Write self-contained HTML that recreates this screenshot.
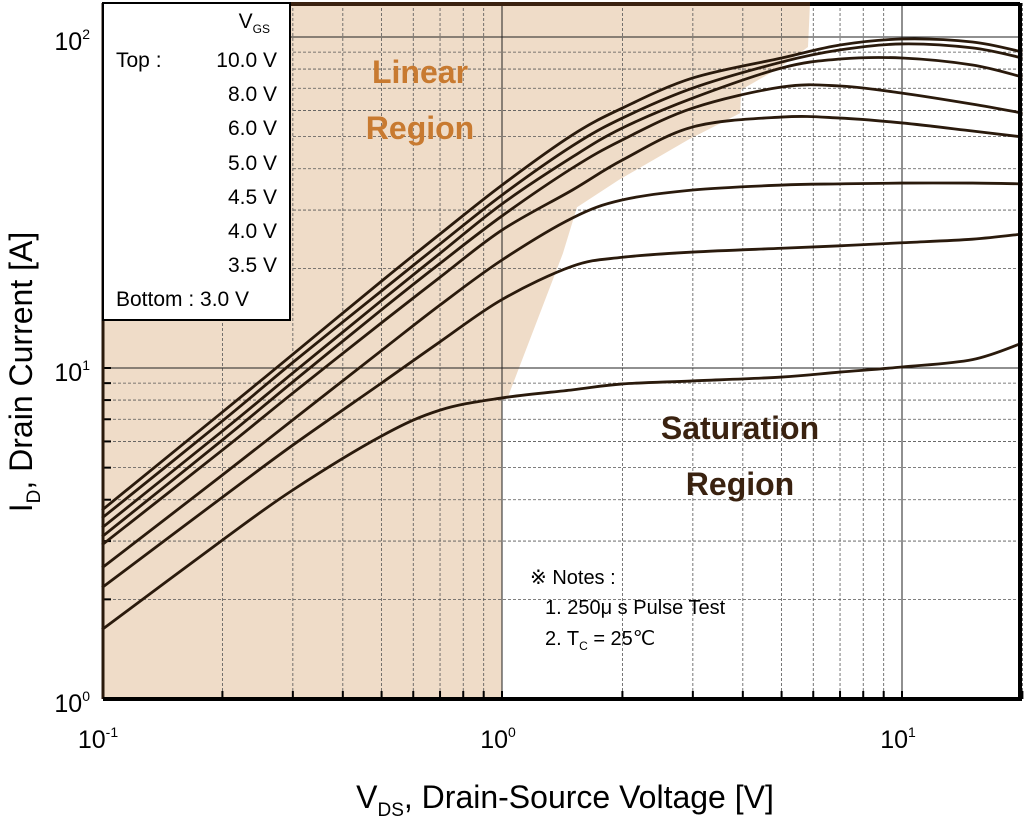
<!DOCTYPE html>
<html><head><meta charset="utf-8"><style>
html,body{margin:0;padding:0;background:#fff;}
svg{display:block;font-family:"Liberation Sans",sans-serif;}
</style></head><body>
<svg id="chart" width="1024" height="817" viewBox="0 0 1024 817" xmlns="http://www.w3.org/2000/svg">
<g id="shade"></g>
<g id="grid"></g>
<g id="curves"></g>
<g id="frame"></g>
<g id="labels"></g>
<g>
<rect x="103" y="3" width="187" height="317" fill="#fff" stroke="#000" stroke-width="2"/>
<text x="270" y="28" font-size="21" text-anchor="end" fill="#000">V<tspan font-size="12" dy="5">GS</tspan></text>
<text x="116" y="67" font-size="21" fill="#000">Top :</text>
<g font-size="21" text-anchor="end" fill="#000">
<text x="277" y="67">10.0 V</text>
<text x="277" y="101">8.0 V</text>
<text x="277" y="135">6.0 V</text>
<text x="277" y="170">5.0 V</text>
<text x="277" y="204">4.5 V</text>
<text x="277" y="238">4.0 V</text>
<text x="277" y="272">3.5 V</text>
</g>
<text x="116" y="306" font-size="21" fill="#000">Bottom :  3.0 V</text>
</g>
<g font-size="32" font-weight="bold" fill="#c87a30" text-anchor="middle">
<text x="420" y="83">Linear</text><text x="420" y="139">Region</text></g>
<g font-size="32" font-weight="bold" fill="#3a2210" text-anchor="middle">
<text x="740" y="439">Saturation</text><text x="740" y="495">Region</text></g>
<g font-size="20" fill="#000">
<text x="530" y="584">※ Notes :</text>
<text x="545" y="614">1. 250μ s Pulse Test</text>
<text x="545" y="645">2. T<tspan font-size="12" dy="5">C</tspan><tspan dy="-5"> = 25℃</tspan></text>
</g>
<text x="565" y="808" font-size="32" text-anchor="middle" fill="#000">V<tspan font-size="19" dy="8">DS</tspan><tspan dy="-8">, Drain-Source Voltage [V]</tspan></text>
<text transform="translate(32,372) rotate(-90)" font-size="32" text-anchor="middle" fill="#000">I<tspan font-size="19" dy="8">D</tspan><tspan dy="-8">, Drain Current [A]</tspan></text>
</svg>
<script>
const vGrid=[0.1,0.2,0.3,0.5,0.7,1,1.5,2,3,5,7,10,15,20];
const i10=[3.72,7.36,11.0,18.3,25.4,35.7,50.6,61.0,75.2,86.4,94.6,98.6,96.6,90.1];
const i8=[3.52,6.92,10.4,17.1,23.7,33.3,46.9,56.9,70.1,84.0,91.4,95.3,92.7,86.4];
const i6=[3.29,6.45,9.66,16.0,22.2,31.3,43.4,53.1,65.4,80.6,85.8,86.4,82.3,75.7];
const i5=[3.09,6.06,9.08,15.0,20.7,28.8,40.2,48.9,61.0,70.6,71.1,67.7,62.7,58.9];
const i45=[2.92,5.65,8.40,13.7,18.8,26.1,34.5,42.5,53.5,57.3,56.9,55.0,52.0,49.9];
const i4=[2.49,4.75,6.97,11.3,15.5,21.2,28.4,32.2,34.5,35.7,36.0,36.2,36.2,36.0];
const i35=[2.17,4.07,5.85,9.01,12.0,16.1,20.3,21.6,22.4,23.0,23.4,23.9,24.5,25.4];
const i3=[1.62,3.02,4.28,6.23,7.46,8.12,8.59,8.95,9.14,9.39,9.72,10.07,10.6,11.9];
const seriesNames=["10v","8v","6v","5v","4-5v","4v","3-5v","3v"];
const shadeV=[0.1,5.89,5.82,4.93,3.96,3.94,2.92,1.96,1.54,1.42,1.035,1,1,0.1];
const shadeI=[126.7,126.7,93.3,80.6,69.2,58.9,48.9,37.0,30.6,22.2,8.19,8.0,1,1];
const NS="http://www.w3.org/2000/svg";
const X0=102,XD=400,Y0=37,YD=331;
const xs=v=>X0+XD*(Math.log10(v)+1);
const ys=i=>Y0+YD*(2-Math.log10(i));
const L=103,R=1020,T=3,B=699;
function mk(tag,parent,attrs){const e=document.createElementNS(NS,tag);for(const k in attrs)e.setAttribute(k,attrs[k]);parent.appendChild(e);return e;}
const shadeG=document.getElementById('shade');
const sp=mk('polygon',shadeG,{points:shadeV.map((v,k)=>Math.max(L,xs(v)).toFixed(1)+','+Math.max(T,ys(shadeI[k])).toFixed(1)).join(' '),fill:'#efdcc8'});


const grid=document.getElementById('grid');
for(let d=-1;d<=1;d++)for(let m=1;m<=9;m++){const v=m*Math.pow(10,d);if(v>20)continue;const x=xs(v);if(x<L+1)continue;
 const ln=mk('line',grid,{x1:x,x2:x,y1:T,y2:B,stroke:m===1?'#222':'#555','stroke-width':m===1?1:0.8,'stroke-dasharray':m===1?'':'3,2'});
 
 
 mk('line',grid,{x1:x,x2:x,y1:B-8,y2:B,stroke:'#000','stroke-width':2});}
for(let d=0;d<=2;d++)for(let m=1;m<=9;m++){const v=m*Math.pow(10,d);const y=ys(v);if(y<T+1||y>B-1)continue;
 const ln=mk('line',grid,{x1:L,x2:R,y1:y,y2:y,stroke:m===1?'#222':'#555','stroke-width':m===1?1:0.8,'stroke-dasharray':m===1?'':'3,2'});
 
 
 mk('line',grid,{x1:L,x2:L+8,y1:y,y2:y,stroke:'#000','stroke-width':2});}
const all=[i10,i8,i6,i5,i45,i4,i35,i3];
const cg=document.getElementById('curves');
all.forEach((arr,s)=>{
 const p=vGrid.map((v,k)=>[xs(v),ys(arr[k])]);
 let d='M'+p[0][0]+','+p[0][1];
 for(let k=0;k<p.length-1;k++){const p0=p[k-1]||p[k],p1=p[k],p2=p[k+1],p3=p[k+2]||p2;
  d+=' C'+(p1[0]+(p2[0]-p0[0])/6)+','+(p1[1]+(p2[1]-p0[1])/6)+' '+(p2[0]-(p3[0]-p1[0])/6)+','+(p2[1]-(p3[1]-p1[1])/6)+' '+p2[0]+','+p2[1];}
 const path=mk('path',cg,{d:d,fill:'none',stroke:'#2a1a0c','stroke-width':2.8});
 
 
});
const fr=document.getElementById('frame');
mk('line',fr,{x1:L,x2:810,y1:T+1,y2:T+1,stroke:'#3a2210','stroke-width':4});
mk('line',fr,{x1:810,x2:R,y1:T+1,y2:T+1,stroke:'#000','stroke-width':4});
mk('line',fr,{x1:L,x2:L,y1:T,y2:B,stroke:'#2a1a0c','stroke-width':3});
mk('line',fr,{x1:R,x2:R,y1:T,y2:B+2,stroke:'#000','stroke-width':4});
mk('line',fr,{x1:L,x2:R+2,y1:B,y2:B,stroke:'#000','stroke-width':4});
const xTicks=[0.1,1,10];const xTickExp=["-1","0","1"];
const yTicks=[100,10,1];const yTickExp=["2","1","0"];
const lg=document.getElementById('labels');
xTicks.forEach((v,k)=>{const t=mk('text',lg,{x:xs(v)-4,y:748,'font-size':25,'text-anchor':'middle',fill:'#000'});
 
 
 t.innerHTML='10<tspan font-size="14" dy="-11">'+xTickExp[k]+'</tspan>';});
yTicks.forEach((v,k)=>{const t=mk('text',lg,{x:90,y:ys(v)+13,'font-size':25,'text-anchor':'end',fill:'#000'});
 
 
 t.innerHTML='10<tspan font-size="14" dy="-11">'+yTickExp[k]+'</tspan>';});
</script>
</body></html>
